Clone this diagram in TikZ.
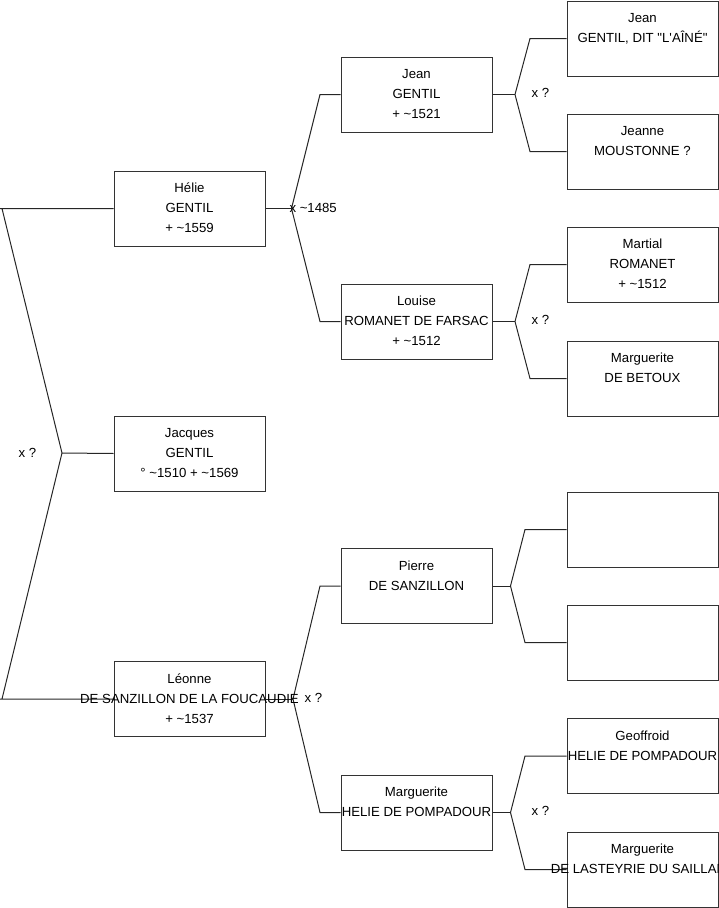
\documentclass[tikz,border=0pt]{standalone}
\usepackage{fontspec}
\newfontfamily\arial{Liberation Sans}
\newcommand{\fiche}[3]{\strut#1\\\strut#2\\\strut#3}

\begin{document}
\begin{tikzpicture}[
    x=1pt, y=-1pt,
    every node/.style={rectangle, draw=black!80, line width=1pt, minimum width=151pt, minimum height=75pt, inner sep=0pt},
    edge/.style={line width=1pt, draw=black!85},
    lab/.style={draw=none, minimum width=0pt, minimum height=0pt, inner sep=0pt, align=center, font=\arial\fontsize{13.2}{20}\selectfont}
]
\useasboundingbox (0,0) rectangle (719,908);

% generation 1
\node (a1) at (189.5,208.5) {};
\node (a2) at (189.5,453.5) {};
\node (a3) at (189.5,699)   {};

% generation 2
\node (b1) at (416.5,94.5)  {};
\node (b2) at (416.5,321.5) {};
\node (b3) at (416.5,586)   {};
\node (b4) at (416.5,812.5) {};

% generation 3
\node (c1) at (642.5,38.5)  {};
\node (c2) at (642.5,151.5) {};
\node (c3) at (642.5,264.5) {};
\node (c4) at (642.5,378.5) {};
\node (c5) at (642.5,529.5) {};
\node (c6) at (642.5,642.5) {};
\node (c7) at (642.5,756)   {};
\node (c8) at (642.5,869.5) {};

% forks
\coordinate (f0) at (62,453);
\coordinate (f0u) at (2,208.5);
\coordinate (f0d) at (2,699);
\coordinate (f1) at (291.5,208.5);
\coordinate (f1u) at (320,94.5);
\coordinate (f1d) at (320,321.5);
\coordinate (f3) at (293,699);
\coordinate (f3u) at (320,586);
\coordinate (f3d) at (320,812.5);
\coordinate (g1) at (515,94.5);
\coordinate (g1u) at (530,38.5);
\coordinate (g1d) at (530,151.5);
\coordinate (g2) at (515,321.5);
\coordinate (g2u) at (530,264.5);
\coordinate (g2d) at (530,378.5);
\coordinate (g3) at (510.5,586);
\coordinate (g3u) at (525,529.5);
\coordinate (g3d) at (525,642.5);
\coordinate (g4) at (510.5,812.5);
\coordinate (g4u) at (525,756);
\coordinate (g4d) at (525,869.5);

\draw[edge] (a1.west) -- (0,208.5) -- (f0u) -- (f0) -- (f0d) -- (0,699) -- (a3.west);
\draw[edge] (a2.west) -- (f0);

\draw[edge] (b1.west) -- (f1u) -- (f1) -- (f1d) -- (b2.west);
\draw[edge] (a1.east) -- (f1);
\draw[edge] (b3.west) -- (f3u) -- (f3) -- (f3d) -- (b4.west);
\draw[edge] (a3.east) -- (f3);

\draw[edge] (c1.west) -- (g1u) -- (g1) -- (g1d) -- (c2.west);
\draw[edge] (b1.east) -- (g1);
\draw[edge] (c3.west) -- (g2u) -- (g2) -- (g2d) -- (c4.west);
\draw[edge] (b2.east) -- (g2);
\draw[edge] (c5.west) -- (g3u) -- (g3) -- (g3d) -- (c6.west);
\draw[edge] (b3.east) -- (g3);
\draw[edge] (c7.west) -- (g4u) -- (g4) -- (g4d) -- (c8.west);
\draw[edge] (b4.east) -- (g4);

\node[lab] (a1t) at (a1) {\fiche{Hélie}{GENTIL}{+ \textasciitilde1559}};
\node[lab] (a2t) at (a2) {\fiche{Jacques}{GENTIL}{° \textasciitilde1510 + \textasciitilde1569}};
\node[lab] (a3t) at (a3) {\fiche{Léonne}{DE SANZILLON DE LA FOUCAUDIE}{+ \textasciitilde1537}};

\node[lab] (b1t) at (b1) {\fiche{Jean}{GENTIL}{+ \textasciitilde1521}};
\node[lab] (b2t) at (b2) {\fiche{Louise}{ROMANET DE FARSAC}{+ \textasciitilde1512}};
\node[lab] (b3t) at (b3) {\fiche{Pierre}{DE SANZILLON}{}};
\node[lab] (b4t) at (b4) {\fiche{Marguerite}{HELIE DE POMPADOUR}{}};

\node[lab] (c1t) at (c1) {\fiche{Jean}{GENTIL, DIT "L'AÎNÉ"}{}};
\node[lab] (c2t) at (c2) {\fiche{Jeanne}{MOUSTONNE ?}{}};
\node[lab] (c3t) at (c3) {\fiche{Martial}{ROMANET}{+ \textasciitilde1512}};
\node[lab] (c4t) at (c4) {\fiche{Marguerite}{DE BETOUX}{}};
\node[lab] (c7t) at (c7) {\fiche{Geoffroid}{HELIE DE POMPADOUR}{}};
\node[lab] (c8t) at (c8) {\fiche{Marguerite}{DE LASTEYRIE DU SAILLANT}{}};

\node[lab, anchor=west] (m0) at (18,452.5)  {x ?};
\node[lab, anchor=west] (m1) at (289,207.5) {x \textasciitilde1485};
\node[lab, anchor=west] (m3) at (304,698)   {x ?};
\node[lab, anchor=west] (n1) at (531,92.5)  {x ?};
\node[lab, anchor=west] (n2) at (531,320)   {x ?};
\node[lab, anchor=west] (n4) at (531,811)   {x ?};

\end{tikzpicture}
\end{document}
